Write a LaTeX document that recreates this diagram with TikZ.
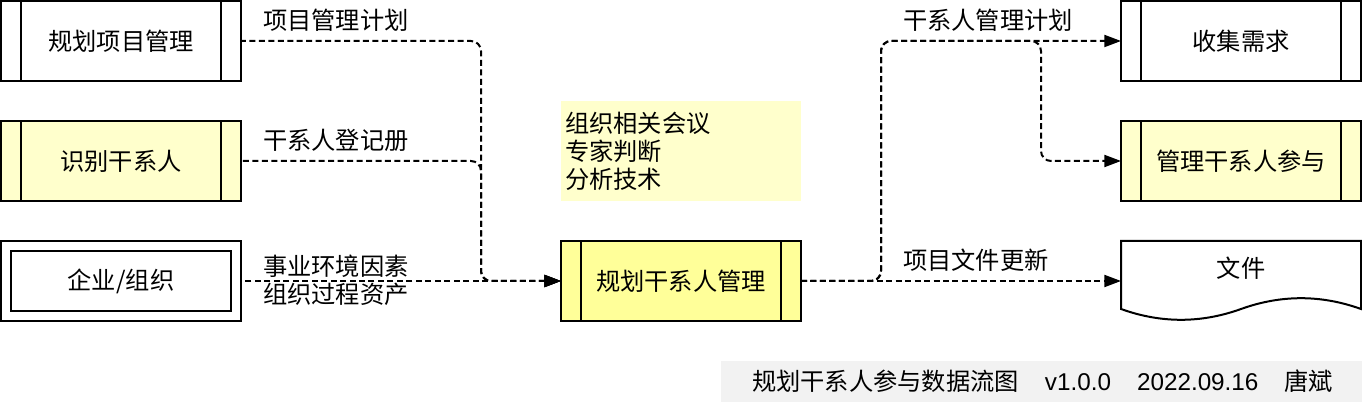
\documentclass[tikz,border=0pt]{standalone}
\usepackage{fontspec}
\setmainfont{Noto Sans CJK SC}
\newfontfamily\lat{Liberation Sans}
\usetikzlibrary{arrows.meta}
\definecolor{lightyel}{HTML}{FFFFCC}
\definecolor{yel}{HTML}{FFFF99}
\definecolor{footgray}{HTML}{F2F2F2}
\newcommand\sidebars[1]{\draw[line width=1.5pt] ([xshift=15pt]#1.north west) -- ([xshift=15pt]#1.south west) ([xshift=-15pt]#1.north east) -- ([xshift=-15pt]#1.south east);}
\begin{document}
\begin{tikzpicture}[x=0.75pt,y=-0.75pt,
  every node/.style={font=\fontsize{18.2pt}{21pt}\selectfont, inner sep=0pt, outer sep=0pt},
  procbox/.style={draw, line width=1.5pt, minimum width=180pt, minimum height=60pt},
  flow/.style={line width=1.5pt, dash pattern=on 4.5pt off 2.6pt, rounded corners=7.5pt},
  tip/.style={-{Triangle[length=12.5pt,width=9pt]}},
  revtip/.style={{Triangle[length=12.5pt,width=9pt]}-},
  lbl/.style={anchor=west, align=left},
]
\useasboundingbox (0,0) rectangle (1362,402);

% left column
\node[procbox] (pm) at (121,41) {规划项目管理};
\sidebars{pm}
\node[procbox, fill=lightyel] (ids) at (121,161) {识别干系人};
\sidebars{ids}
\node[procbox] (ent) at (121,281) {企业/组织};
\draw[line width=1.5pt] ([shift={(7.5pt,-7.5pt)}]ent.north west) rectangle ([shift={(-7.5pt,7.5pt)}]ent.south east);

% center
\node[procbox, fill=yel] (plan) at (681,281) {规划干系人管理};
\sidebars{plan}
\node[fill=lightyel, minimum width=180pt, minimum height=75pt] (tools) at (681,151) {};
\node[lbl] (toolstext) at ([xshift=3pt]tools.west) {组织相关会议\\专家判断\\分析技术};

% right column
\node[procbox] (req) at (1241,41) {收集需求};
\sidebars{req}
\node[procbox, fill=lightyel] (eng) at (1241,161) {管理干系人参与};
\sidebars{eng}
\node[minimum width=180pt, minimum height=60pt] (doc) at (1241,281) {};
\draw[line width=1.5pt, fill=white] (1121,241) -- (1361,241) -- (1361,309)
  .. controls (1321,294.6) and (1281,294.6) .. (1241,309)
  .. controls (1201,323.4) and (1161,323.4) .. (1121,309) -- cycle;
\node (doctext) at (1241,268) {文件};

% labels
\node[lbl] (l1) at (263,20) {项目管理计划};
\node[lbl] (l2) at (263,140) {干系人登记册};
\node[lbl] (l3) at (263,280) {事业环境因素\\组织过程资产};
\node[lbl] (l4) at (903,20) {干系人管理计划};
\node[lbl] (l5) at (903,260) {项目文件更新};

% connectors (left ones drawn from the target so the shared dashes coincide)
\coordinate (jl) at (481,0);
\coordinate (jr) at (881,0);
\coordinate (jr2) at (1041,0);
\draw[flow,revtip] (plan.west) -- (plan.west -| jl) -- (pm.east -| jl) -- (pm.east);
\draw[flow,revtip] (plan.west) -- (plan.west -| jl) -- (ids.east -| jl) -- (ids.east);
\draw[flow,revtip] (plan.west) -- (ent.east);
\draw[flow,tip] (plan.east) -- (doc.west);
\draw[flow,tip] (plan.east) -- (plan.east -| jr) -- (req.west -| jr) -- (req.west);
\draw[flow,tip] (plan.east) -- (plan.east -| jr) -- (req.west -| jr) -- (req.west -| jr2) -- (eng.west -| jr2) -- (eng.west);

% footer
\node[fill=footgray, anchor=north west, minimum width=480.75pt, minimum height=30.75pt] (footbox) at (721,361) {};
\node[anchor=west] (foottext) at (752,381) {规划干系人参与数据流图\hspace{19.5pt}{\lat v1.0.0}\hspace{19.5pt}{\lat 2022.09.16}\hspace{19.5pt}唐斌};
\end{tikzpicture}
\end{document}
